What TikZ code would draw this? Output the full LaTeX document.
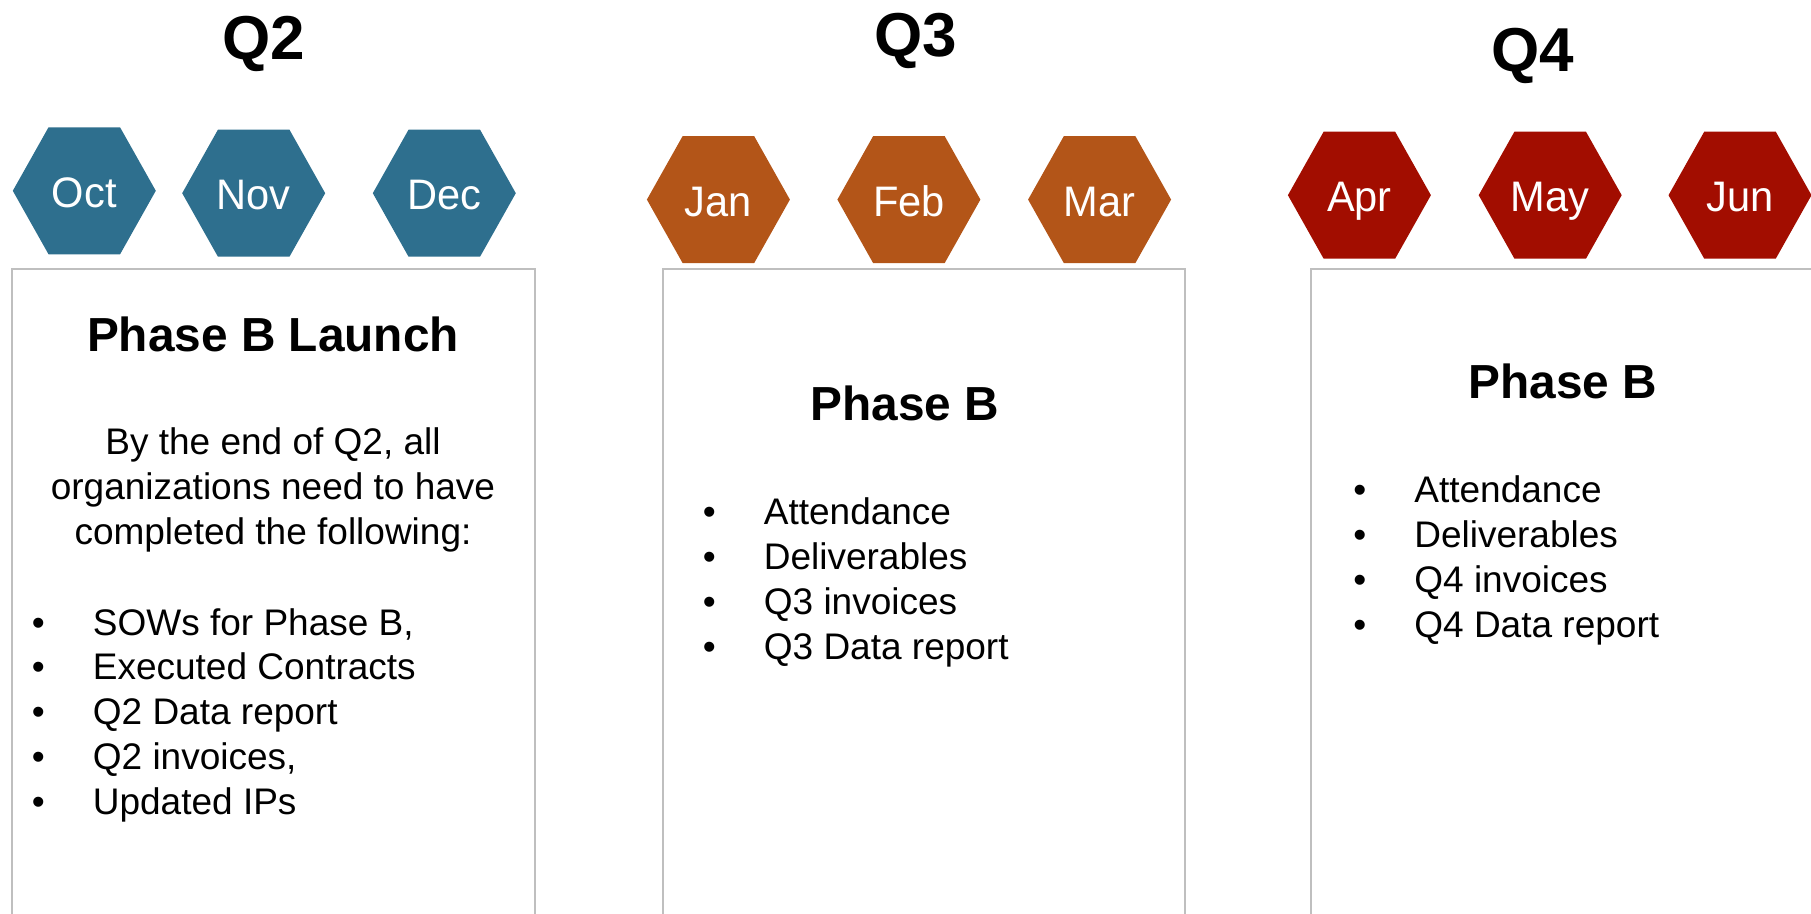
\documentclass[tikz,border=0pt]{standalone}
\usepackage{fontspec}
\setmainfont{Liberation Sans}
\usepackage{tikz}
\usetikzlibrary{shapes.geometric,positioning,calc}

\definecolor{qblue}{RGB}{46,111,142}
\definecolor{qorange}{RGB}{179,85,24}
\definecolor{qred}{RGB}{162,13,0}
\definecolor{panelgray}{RGB}{191,191,191}

\tikzset{
  month/.style={regular polygon, regular polygon sides=6, minimum size=71.5pt, inner sep=0pt, yscale=1.026,
    fill=#1, text=white, font=\fontsize{20.8}{25}\selectfont, text height=19.6pt, text depth=3.3pt},
  quarter/.style={anchor=base, inner sep=0pt, font=\fontsize{31}{37}\selectfont\bfseries},
  phase/.style={anchor=base, inner sep=0pt, font=\fontsize{23.9}{28}\selectfont\bfseries},
  body/.style={inner sep=0pt, font=\fontsize{18.5}{22.4}\selectfont},
  panel/.style={draw=panelgray, line width=1pt},
}

\begin{document}
\begin{tikzpicture}[x=0.5pt,y=-0.5pt]
\useasboundingbox (0,0) rectangle (1811,914);

\draw[panel] (12,914) |- (535,269) -- (535,914);
\draw[panel] (663,914) |- (1185,269) -- (1185,914);
\draw[panel] (1311,914) |- (1811,269);

\node[quarter] (q2) at (264,60) {Q2};
\node[quarter] (q3) at (916,57) {Q3};
\node[quarter] (q4) at (1533,72) {Q4};

\foreach \nm/\lab/\x/\y/\c in {oct/Oct/84.3/190.8/qblue, nov/Nov/253.7/193.2/qblue, dec/Dec/444.3/193.2/qblue,
    jan/Jan/718.4/199.6/qorange, feb/Feb/908.9/199.6/qorange, mar/Mar/1099.6/199.6/qorange,
    apr/Apr/1359.4/195.2/qred, may/May/1550.2/195.2/qred, jun/Jun/1740/195.2/qred}
  \node[month=\c] (\nm) at (\x,\y) {\lab};

\node[phase] (launch) at (273,352) {Phase B Launch};
\node[body, anchor=base] (intro) at (273,455) {\begin{tabular}[t]{@{}c@{}}
By the end of Q2, all\\
organizations need to have\\
completed the following:
\end{tabular}};
\node[body, anchor=base west] (listq2) at (31.5,635) {\begin{tabular}[t]{@{}p{30.5pt}@{}l@{}}
\textbullet & SOWs for Phase B,\\
\textbullet & Executed Contracts\\
\textbullet & Q2 Data report\\
\textbullet & Q2 invoices,\\
\textbullet & Updated IPs
\end{tabular}};

\node[phase] (phaseq3) at (905,421) {Phase B};
\node[body, anchor=base west] (listq3) at (702.5,525) {\begin{tabular}[t]{@{}p{30.5pt}@{}l@{}}
\textbullet & Attendance\\
\textbullet & Deliverables\\
\textbullet & Q3 invoices\\
\textbullet & Q3 Data report
\end{tabular}};

\node[phase] (phaseq4) at (1563,399) {Phase B};
\node[body, anchor=base west] (listq4) at (1353,503) {\begin{tabular}[t]{@{}p{30.5pt}@{}l@{}}
\textbullet & Attendance\\
\textbullet & Deliverables\\
\textbullet & Q4 invoices\\
\textbullet & Q4 Data report
\end{tabular}};
\end{tikzpicture}
\end{document}
